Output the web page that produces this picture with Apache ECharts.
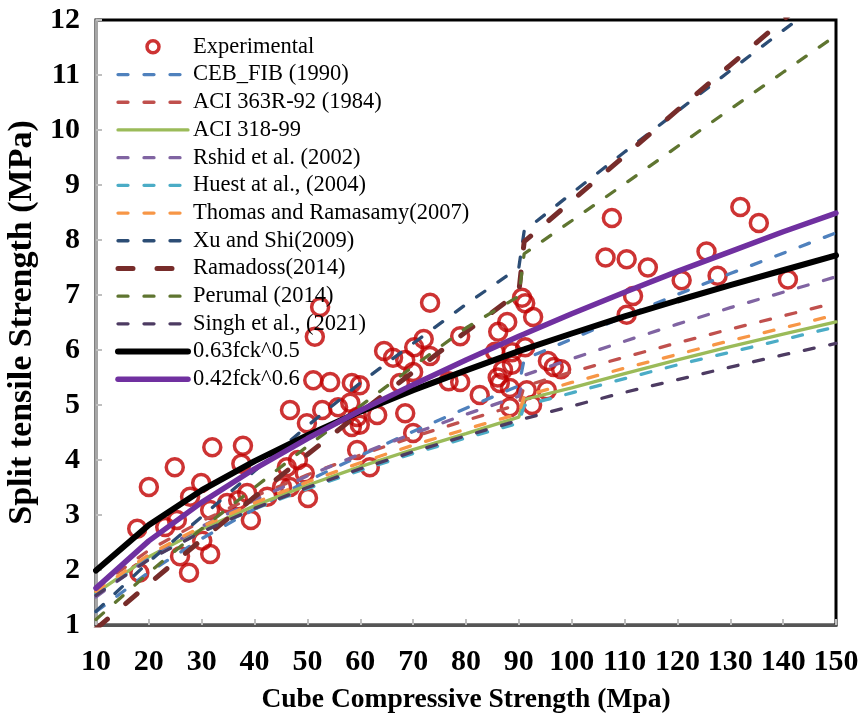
<!DOCTYPE html>
<html>
<head>
<meta charset="utf-8">
<script src="https://cdn.jsdelivr.net/npm/echarts@6/dist/echarts.min.js"></script>
<style>
  html, body { margin: 0; padding: 0; background: #fff; }
  #main { width: 861px; height: 715px; }
</style>
</head>
<body>
<div id="main"></div>
<script>
// cube strength points where the model curves are sampled (step near 90)
var fckX = [10, 20, 30, 40, 50, 60, 70, 80, 90, 91, 100, 110, 120, 130, 140, 150];

var cebFib = [1.24, 1.96, 2.57, 3.11, 3.62, 4.08, 4.52, 4.94, 5.35, 5.83, 6.20, 6.61, 7.01, 7.39, 7.76, 8.13];
var aci363 = [1.67, 2.36, 2.89, 3.34, 3.73, 4.09, 4.42, 4.72, 5.01, 5.34, 5.60, 5.87, 6.13, 6.38, 6.62, 6.86];
var aci318 = [1.58, 2.24, 2.74, 3.17, 3.54, 3.88, 4.19, 4.48, 4.78, 5.10, 5.31, 5.57, 5.82, 6.06, 6.29, 6.51];
var rshid = [1.51, 2.22, 2.79, 3.27, 3.71, 4.11, 4.48, 4.83, 5.16, 5.54, 5.84, 6.16, 6.47, 6.77, 7.05, 7.33];
var huest = [1.56, 2.20, 2.69, 3.11, 3.48, 3.81, 4.12, 4.40, 4.67, 4.99, 5.22, 5.48, 5.73, 5.96, 6.19, 6.42];
var thomas = [1.61, 2.28, 2.79, 3.22, 3.60, 3.95, 4.27, 4.56, 4.84, 5.16, 5.41, 5.67, 5.92, 6.17, 6.40, 6.64];
var xuShi = [1.25, 2.15, 2.97, 3.80, 4.62, 5.40, 6.12, 6.83, 7.50, 8.16, 8.85, 9.60, 10.34, 11.08, 11.81, 12.52];
var ramadoss = [0.93, 1.75, 2.55, 3.33, 4.10, 4.86, 5.60, 6.33, 7.05, 7.97, 8.71, 9.53, 10.36, 11.18, 12.00, 12.83];
var perumal = [1.10, 1.95, 2.75, 3.50, 4.25, 4.98, 5.70, 6.40, 6.98, 7.75, 8.35, 9.02, 9.70, 10.38, 11.05, 11.72];
var singh = [1.54, 2.19, 2.69, 3.12, 3.50, 3.84, 4.15, 4.44, 4.72, 4.75, 4.98, 5.23, 5.46, 5.69, 5.91, 6.12];
var fit05 = [1.99, 2.82, 3.45, 3.98, 4.45, 4.88, 5.27, 5.63, 5.98, 6.01, 6.30, 6.61, 6.90, 7.18, 7.45, 7.72];
var fit06 = [1.67, 2.53, 3.23, 3.84, 4.39, 4.90, 5.37, 5.82, 6.25, 6.29, 6.66, 7.05, 7.43, 7.79, 8.15, 8.49];

// experimental points
var expX = [17.8, 18.2, 20.0, 23.1, 24.9, 25.3, 25.9, 27.6, 27.8, 29.9, 30.1, 31.6, 31.6, 32.0, 34.8,
  36.9, 37.5, 37.8, 38.6, 39.3, 42.4, 45.2, 46.1, 46.7, 46.7, 48.2, 49.5, 49.9, 50.1, 51.1,
  51.4, 52.4, 52.8, 54.3, 55.8, 58.1, 58.4, 59.9, 58.4, 59.9, 59.4, 59.4, 61.8, 63.2, 64.5,
  66.2, 67.5, 68.5, 68.5, 70.0, 70.0, 70.2, 72.0, 73.2, 73.2, 76.7, 78.9, 78.9, 82.6, 85.5,
  86.0, 86.1, 86.4, 87.0, 87.8, 88.3, 88.3, 88.7, 88.7, 90.6, 91.2, 91.2, 91.5, 92.5, 92.7,
  95.3, 95.5, 96.6, 98.0, 106.4, 107.6, 110.4, 110.4, 111.6, 114.4, 120.8, 125.5, 127.6, 131.9, 135.4,
  140.9];
var expY = [2.75, 1.95, 3.51, 2.78, 3.87, 2.91, 2.25, 1.95, 3.33, 3.58, 2.53, 2.29, 3.09, 4.23, 3.22,
  3.27, 3.93, 4.26, 3.40, 2.91, 3.33, 3.51, 3.87, 3.51, 4.91, 4.00, 3.76, 4.67, 3.31, 5.45,
  6.24, 6.78, 4.91, 5.42, 4.96, 5.04, 5.40, 5.36, 4.60, 4.64, 4.78, 4.18, 3.87, 4.82, 5.98,
  5.86, 5.40, 4.85, 5.82, 5.60, 4.49, 6.05, 6.20, 6.86, 5.89, 5.43, 5.42, 6.25, 5.18, 5.97,
  5.50, 6.33, 5.40, 5.64, 6.51, 5.31, 4.96, 5.73, 5.96, 6.95, 6.85, 6.05, 5.27, 5.00, 6.60,
  5.27, 5.80, 5.69, 5.65, 7.68, 8.40, 7.65, 6.64, 6.98, 7.50, 7.27, 7.79, 7.35, 8.60, 8.31,
  7.28];

var xTicks = { min: 10, max: 150, interval: 10 };
var yTicks = { min: 1, max: 12, interval: 1 };

function pairs(ys) {
  return fckX.map(function (x, i) { return [x, ys[i]]; });
}

function curve(name, ys, color, dash, width) {
  return {
    name: name,
    type: "line",
    data: pairs(ys),
    symbol: "none",
    lineStyle: { color: color, width: width || 3.3, type: dash || [10, 16], cap: "round" },
    itemStyle: { color: color },
  };
}

var lineSeries = [
  curve("CEB_FIB (1990)", cebFib, "#4f81bd"),
  curve("ACI 363R-92 (1984)", aci363, "#c0504d"),
  curve("ACI 318-99", aci318, "#9bbb59", "solid", 3.3),
  curve("Rshid et al. (2002)", rshid, "#8064a2"),
  curve("Huest at al., (2004)", huest, "#4bacc6"),
  curve("Thomas and Ramasamy(2007)", thomas, "#f79646"),
  curve("Xu and Shi(2009)", xuShi, "#2c4d75"),
  curve("Ramadoss(2014)", ramadoss, "#772c2a", [15, 24], 5),
  curve("Perumal (2014)", perumal, "#5f7530"),
  curve("Singh et al., (2021)", singh, "#4d3b62"),
  curve("0.63fck^0.5", fit05, "#000000", "solid", 6),
  curve("0.42fck^0.6", fit06, "#7030a0", "solid", 5.5),
];

var legendData = [{ name: "Experimental" }].concat(lineSeries.map(function (s) {
  return { name: s.name, itemStyle: { opacity: 0 } };
}));

var chartDom = document.getElementById("main");
var myChart = echarts.init(chartDom);
var serif = "Liberation Serif";

var option = {
  animation: false,
  textStyle: { fontFamily: serif },
  grid: {
    left: 96, right: 25, top: 20, bottom: 90,
    outerBoundsMode: "none",
    show: true, borderColor: "#000", borderWidth: 3,
  },
  legend: {
    data: legendData,
    orient: "vertical",
    left: 115,
    top: 33,
    padding: 0,
    itemWidth: 70,
    itemHeight: 12,
    itemGap: 0,
    textStyle: { fontFamily: serif, fontSize: 22.5, color: "#000", lineHeight: 27.7 },
    lineStyle: { width: "inherit", type: "inherit" },
    itemStyle: { borderWidth: "inherit" },
  },
  xAxis: {
    type: "value",
    min: xTicks.min,
    max: xTicks.max,
    interval: xTicks.interval,
    name: "Cube Compressive Strength (Mpa)",
    nameLocation: "middle",
    nameGap: 61,
    nameTextStyle: { fontFamily: serif, fontWeight: "bold", fontSize: 27.5, color: "#000" },
    axisLine: { lineStyle: { color: "#555", width: 3 } },
    axisTick: { inside: true, length: 6, lineStyle: { color: "#bfbfbf", width: 2 } },
    axisLabel: { fontFamily: serif, fontWeight: "bold", fontSize: 30, color: "#000", margin: 22 },
    splitLine: { show: false },
  },
  yAxis: {
    type: "value",
    min: yTicks.min,
    max: yTicks.max,
    interval: yTicks.interval,
    name: "Split tensile Strength (MPa)",
    nameLocation: "middle",
    nameGap: 57,
    nameTextStyle: { fontFamily: serif, fontWeight: "bold", fontSize: 34, color: "#000" },
    axisLine: { show: true, lineStyle: { color: "#a6a6a6", width: 3 } },
    axisTick: { inside: true, length: 6, lineStyle: { color: "#bfbfbf", width: 2 } },
    axisLabel: { fontFamily: serif, fontWeight: "bold", fontSize: 30, color: "#000", margin: 16 },
    splitLine: { show: false },
  },
  series: [
    {
      name: "Experimental",
      type: "scatter",
      data: expX.map(function (x, i) { return [x, expY[i]]; }),
      symbol: "circle",
      symbolSize: 17,
      itemStyle: { color: "rgba(255,255,255,0)", borderColor: "#c00000", borderWidth: 3.5 },
    },
  ].concat(lineSeries),
};
myChart.setOption(option);
</script>
</body>
</html>
